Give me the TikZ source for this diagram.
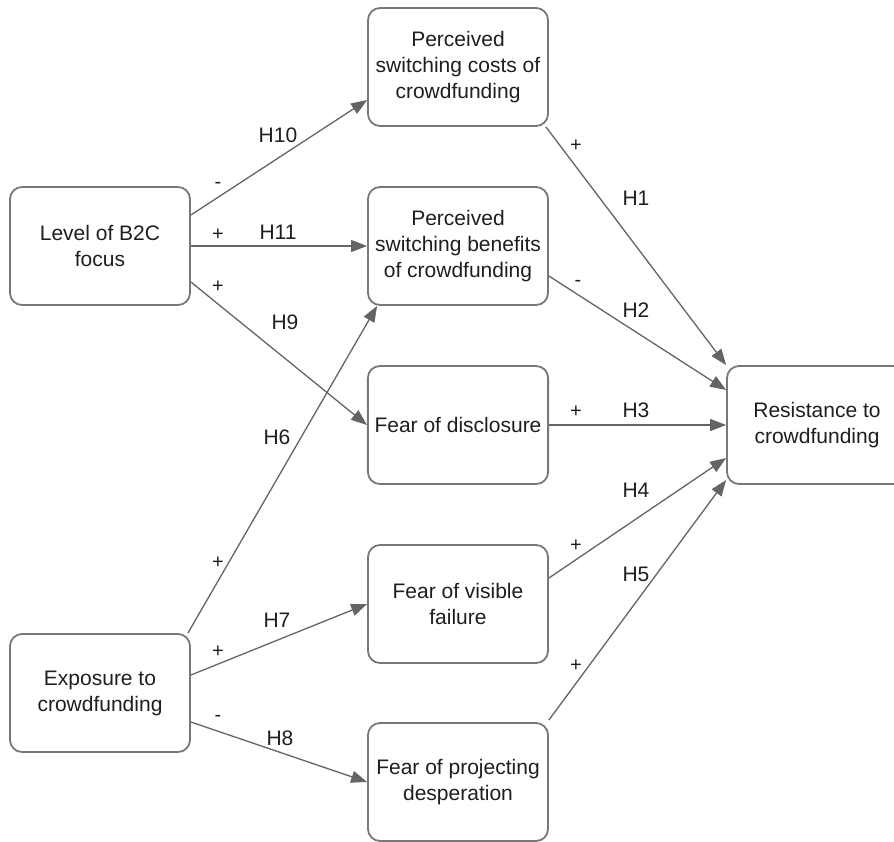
\documentclass[tikz,border=0pt]{standalone}
\usepackage{fontspec}
\setmainfont{Liberation Sans}
\usetikzlibrary{arrows.meta}
\definecolor{boxink}{RGB}{120, 120, 120}
\definecolor{lineink}{RGB}{100, 100, 100}
\definecolor{txtink}{RGB}{30, 30, 30}

\tikzset{
  construct/.style={draw=boxink, line width=0.9pt, rounded corners=6pt,
    minimum width=90pt, minimum height=59pt, align=center,
    text=txtink, font=\fontsize{10.5pt}{13pt}\selectfont},
  hypo/.style={draw=lineink, line width=0.65pt,
    -{Triangle[length=8pt, width=6pt]}},
  tag/.style={text=txtink, font=\fontsize{10.5pt}{13pt}\selectfont},
  sign/.style={text=txtink, font=\fontsize{10pt}{12pt}\selectfont}
}

\begin{document}
\begin{tikzpicture}[x=0.5pt, y=-0.5pt]
  \useasboundingbox (0,0) rectangle (894,841);
  % constructs
  \node[construct] (btoc) at (100,246) {Level of B2C\\focus};
  \node[construct] (expo) at (100,693) {Exposure to\\crowdfunding};
  \node[construct] (cost) at (458,67) {Perceived\\switching costs of\\crowdfunding};
  \node[construct] (bene) at (458,246) {Perceived\\switching benefits\\of crowdfunding};
  \node[construct] (disc) at (458,425) {Fear of disclosure};
  \node[construct] (fail) at (458,604) {Fear of visible\\failure};
  \node[construct] (desp) at (458,782) {Fear of projecting\\desperation};
  \node[construct] (resi) at (817,425) {Resistance to\\crowdfunding};

  % hypotheses
  \draw[hypo] ([yshift=15.5pt]btoc.east) -- ([yshift=-16.5pt]cost.west);
  \draw[hypo] (btoc.east) -- (bene.west);
  \draw[hypo] ([yshift=-18pt]btoc.east) -- (disc.west);
  \draw[hypo] ([xshift=-1.5pt]expo.north east) -- ([xshift=5pt]bene.south west);
  \draw[hypo] ([yshift=9pt]expo.east) -- (fail.west);
  \draw[hypo] ([yshift=-14.5pt]expo.east) -- (desp.west);
  \draw[hypo] ([xshift=-1.5pt]cost.south east) -- (resi.north west);
  \draw[hypo] ([yshift=-15pt]bene.east) -- ([yshift=17.5pt]resi.west);
  \draw[hypo] (disc.east) -- (resi.west);
  \draw[hypo] ([yshift=13pt]fail.east) -- ([yshift=-16.5pt]resi.west);
  \draw[hypo] ([yshift=31pt]desp.east) -- ([yshift=-27.5pt]resi.west);

  % labels
  \node[tag] (hten) at (278,135) {H10};
  \node[tag] (helv) at (278,232) {H11};
  \node[tag] (hnin) at (285,322) {H9};
  \node[tag] (hsix) at (277,437) {H6};
  \node[tag] (hsev) at (277,620) {H7};
  \node[tag] (heig) at (280,738) {H8};
  \node[tag] (hone) at (636,198) {H1};
  \node[tag] (htwo) at (636,310) {H2};
  \node[tag] (hthr) at (636,410) {H3};
  \node[tag] (hfou) at (636,490) {H4};
  \node[tag] (hfiv) at (636,574) {H5};

  \node[sign] (sten) at (218,185) {-};
  \node[sign] (selv) at (218,235) {+};
  \node[sign] (snin) at (218,287) {+};
  \node[sign] (ssix) at (218,563) {+};
  \node[sign] (ssev) at (218,652) {+};
  \node[sign] (seig) at (218,718) {-};
  \node[sign] (sone) at (576,146) {+};
  \node[sign] (stwo) at (578,283) {-};
  \node[sign] (sthr) at (576,412) {+};
  \node[sign] (sfou) at (576,546) {+};
  \node[sign] (sfiv) at (576,666) {+};
\end{tikzpicture}
\end{document}
